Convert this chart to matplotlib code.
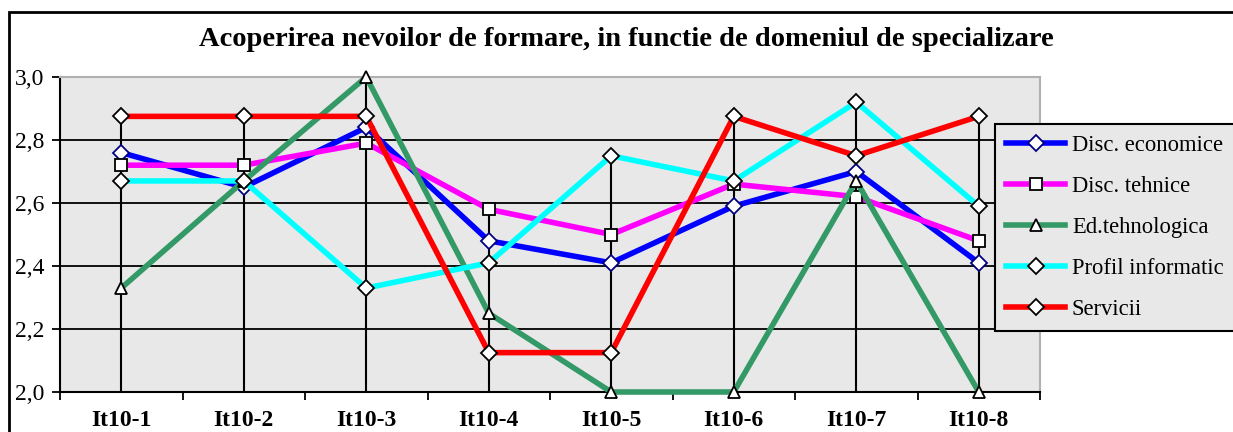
import numpy as np
import matplotlib.pyplot as plt
from matplotlib.patches import Rectangle
from matplotlib.ticker import FixedLocator, FuncFormatter

# Data
categories = ['It10-1', 'It10-2', 'It10-3', 'It10-4', 'It10-5', 'It10-6', 'It10-7', 'It10-8']
disc_economice = [2.76, 2.65, 2.84, 2.48, 2.41, 2.59, 2.70, 2.41]
disc_tehnice = [2.72, 2.72, 2.79, 2.58, 2.50, 2.66, 2.62, 2.48]
ed_tehnologica = [2.33, 2.67, 3.00, 2.25, 2.00, 2.00, 2.67, 2.00]
profil_informatic = [2.67, 2.67, 2.33, 2.41, 2.75, 2.67, 2.92, 2.59]
servicii = [2.875, 2.875, 2.875, 2.125, 2.125, 2.875, 2.75, 2.875]

series = [
    ('Disc. economice', disc_economice, '#0000ff', 'D', '#000080'),
    ('Disc. tehnice', disc_tehnice, '#ff00ff', 's', 'black'),
    ('Ed.tehnologica', ed_tehnologica, '#339966', '^', 'black'),
    ('Profil informatic', profil_informatic, '#00ffff', 'D', 'black'),
    ('Servicii', servicii, '#ff0000', 'D', 'black'),
]

plt.rcParams['font.family'] = ['Liberation Serif', 'DejaVu Serif']

fig = plt.figure(figsize=(12.33, 4.32), dpi=100)
ax = fig.add_axes([60 / 1233, 1 - 392 / 432, 980 / 1233, 315 / 432])
ax.set_facecolor('#e8e8e8')

x = np.arange(len(categories))

# horizontal gridlines
for yv in [2.2, 2.4, 2.6, 2.8]:
    ax.axhline(yv, color='black', lw=1.3, zorder=1)

# drop lines from the highest point of each category
tops = np.max(np.array([s[1] for s in series]), axis=0)
ax.vlines(x, 2.0, tops, color='black', lw=1.5, zorder=2)

for name, vals, col, mk, edge in series:
    ms = 8 if mk == 'D' else 9
    ax.plot(x, vals, color=col, lw=4, marker=mk, markersize=ms,
            markerfacecolor='white', markeredgecolor=edge, markeredgewidth=1.3,
            label=name, zorder=3, clip_on=False)

ax.set_xlim(-0.5, len(categories) - 0.5)
ax.set_ylim(2.0, 3.0)

ax.set_xticks(x)
ax.set_xticklabels(categories, fontweight='bold', fontsize=17)
ax.xaxis.set_minor_locator(FixedLocator(np.arange(-0.5, len(categories), 1.0)))
ax.tick_params(axis='x', which='major', length=0, pad=13)
ax.tick_params(axis='x', which='minor', length=6, width=1.3, direction='out')

ax.set_yticks([2.0, 2.2, 2.4, 2.6, 2.8, 3.0])
ax.yaxis.set_major_formatter(FuncFormatter(lambda v, p: f'{v:.1f}'.replace('.', ',')))
ax.tick_params(axis='y', length=6, width=1.3, direction='out', labelsize=17, pad=5)

for side in ['left', 'bottom']:
    ax.spines[side].set_color('black')
    ax.spines[side].set_linewidth(1.5)
for side in ['top', 'right']:
    ax.spines[side].set_color('#b0b0b0')
    ax.spines[side].set_linewidth(1.5)

fig.text(0.508, 1 - 40 / 432, 'Acoperirea nevoilor de formare, in functie de domeniul de specializare',
         ha='center', va='center', fontsize=20.5, fontweight='bold')

leg = ax.legend(loc='upper left', bbox_to_anchor=(995 / 1233, 1 - 124 / 432),
                bbox_transform=fig.transFigure, borderaxespad=0, fontsize=16.3,
                handlelength=2.6, handletextpad=0.3, labelspacing=0.88,
                borderpad=0.5, fancybox=False, framealpha=1, facecolor='#e8e8e8',
                edgecolor='black')
leg.get_frame().set_linewidth(1.5)

# outer chart border (cut off on right and bottom)
fig.patches.append(Rectangle((9 / 1233, -0.05), 1.1, 1 - 12 / 432 + 0.05,
                             transform=fig.transFigure, fill=False,
                             edgecolor='black', lw=2, zorder=10))

fig.savefig('out.png', dpi=100)
